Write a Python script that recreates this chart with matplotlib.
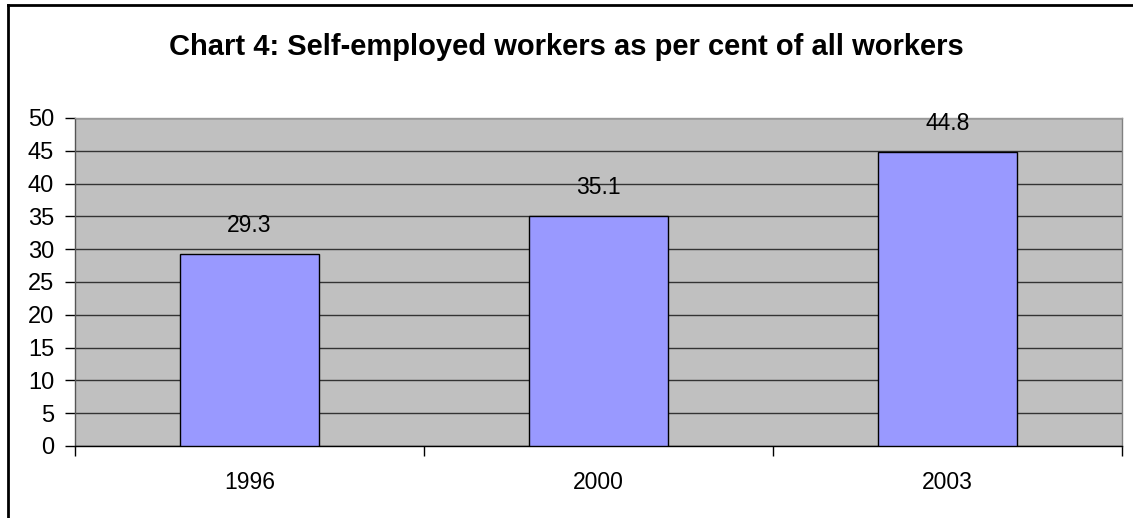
import matplotlib
matplotlib.use("Agg")
import matplotlib.pyplot as plt
from matplotlib.lines import Line2D

plt.rcParams['font.family'] = ['Liberation Sans', 'DejaVu Sans']

years = ['1996', '2000', '2003']
share = [29.3, 35.1, 44.8]

W, H = 1133, 518
fig = plt.figure(figsize=(W / 100, H / 100), dpi=100)
ax = fig.add_axes([75 / W, 1 - 446 / H, (1122 - 75) / W, (446 - 118) / H])

ax.set_facecolor('#C0C0C0')
x = range(len(years))
bars = ax.bar(x, share, width=0.4, color='#9999FF', edgecolor='black', linewidth=1, zorder=3)

for b, v in zip(bars, share):
    ax.annotate(f'{v}', (b.get_x() + b.get_width() / 2, v), xytext=(0, 12),
                textcoords='offset points', ha='center', va='bottom', fontsize=16.5)

ax.set_ylim(0, 50)
ax.set_yticks(range(0, 51, 5))
ax.set_xlim(-0.5, len(years) - 0.5)
ax.yaxis.grid(True, color='#333333', linewidth=1, zorder=1)
ax.set_axisbelow(True)

# category ticks sit on the boundaries, labels in the middle
ax.set_xticks([i - 0.5 for i in range(len(years) + 1)])
ax.set_xticklabels([])
ax.set_xticks(list(x), minor=True)
ax.set_xticklabels(years, minor=True, fontsize=16.5)
ax.tick_params(axis='x', which='major', direction='out', length=7, width=1)
ax.tick_params(axis='x', which='minor', length=0, pad=18)
ax.tick_params(axis='y', direction='out', length=7, width=1, pad=8, labelsize=17)

ax.spines['bottom'].set_color('black')
ax.spines['left'].set_color('#555555')
ax.spines['right'].set_color('#808080')
ax.spines['top'].set_color('#999999')
for s in ax.spines.values():
    s.set_linewidth(1)

fig.text(0.5, 1 - 47 / H, 'Chart 4: Self-employed workers as per cent of all workers',
         ha='center', va='center', fontsize=21, fontweight='bold')

# outer chart frame (right and bottom edges fall off the picture)
fig.add_artist(Line2D([8 / W, 1], [1 - 5 / H, 1 - 5 / H], color='black', linewidth=2))
fig.add_artist(Line2D([8 / W, 8 / W], [0, 1 - 5 / H], color='black', linewidth=2))

fig.savefig('out.png', dpi=100)
